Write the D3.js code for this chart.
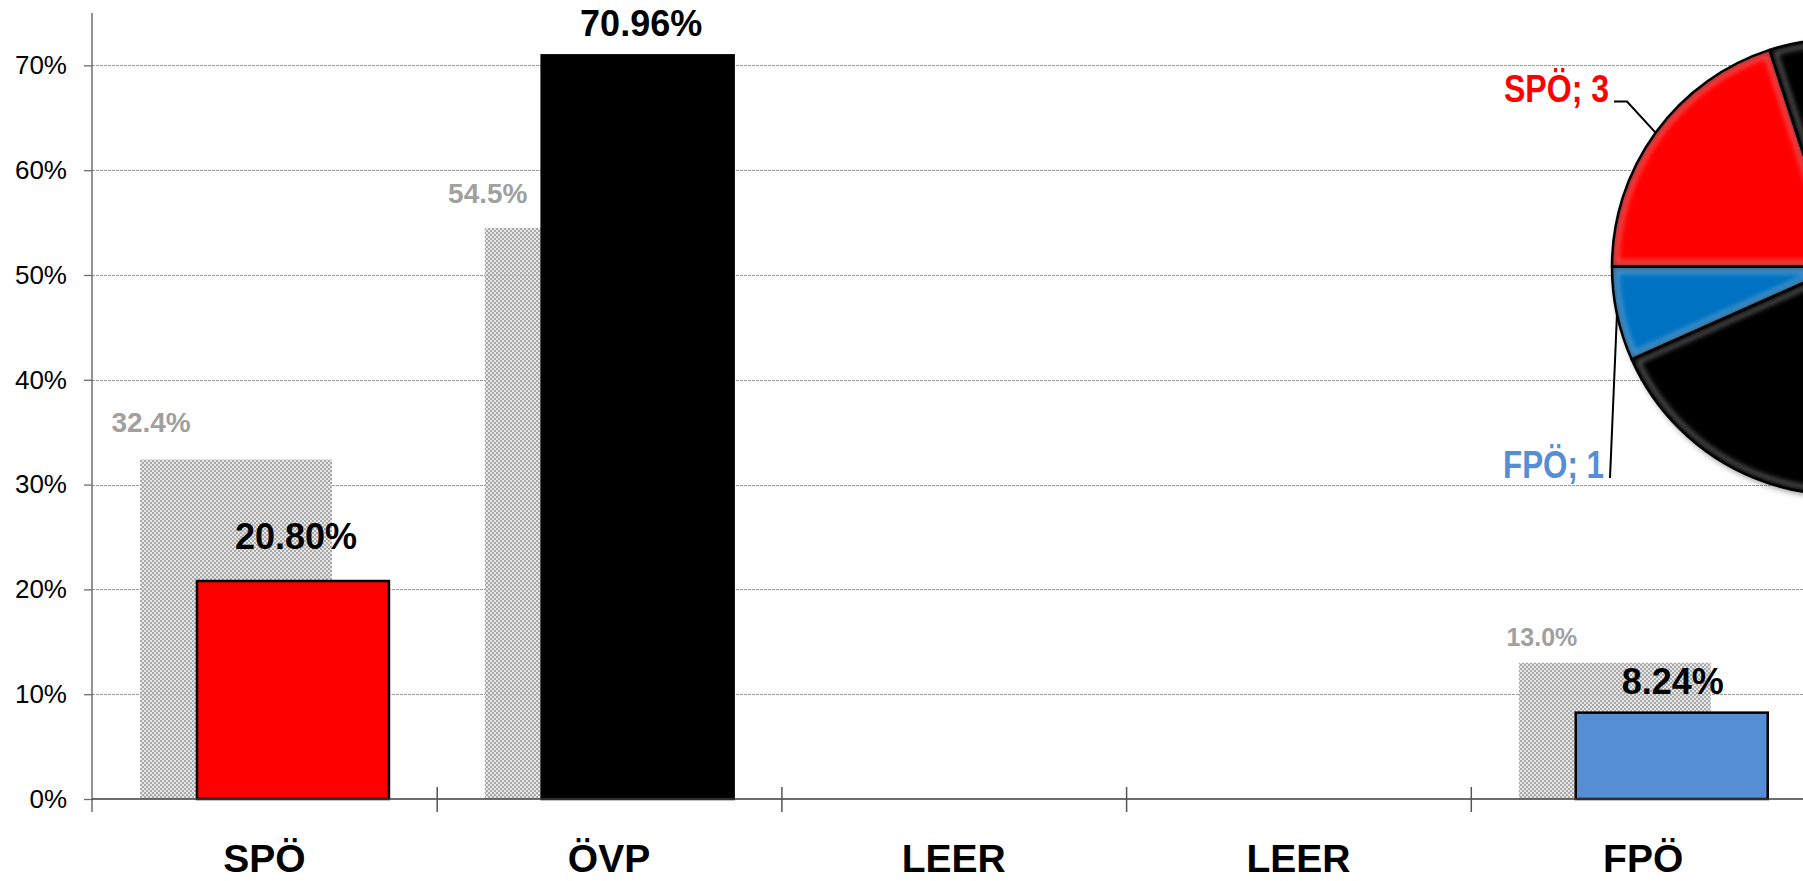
<!DOCTYPE html>
<html>
<head>
<meta charset="utf-8">
<script src="https://cdn.jsdelivr.net/npm/d3@7"></script>
<style>
  html, body { margin: 0; padding: 0; background: #fff; overflow: hidden; }
  svg { display: block; font-family: "Liberation Sans", Arial, sans-serif; }
</style>
</head>
<body>
<svg id="chart" width="1803" height="881"></svg>
<script>
// ---------------- data ----------------
const categories = ["SPÖ", "ÖVP", "LEER", "LEER", "FPÖ"];
const previousShare = [0.324, 0.545, null, null, 0.130];   // grey patterned bars
const currentShare  = [0.2080, 0.7096, null, null, 0.0824]; // coloured bars
const previousLabels = ["32.4%", "54.5%", null, null, "13.0%"];
const currentLabels  = ["20.80%", "70.96%", null, null, "8.24%"];
const yTicks = [0, 0.1, 0.2, 0.3, 0.4, 0.5, 0.6, 0.7];
const seatParties = ["SPÖ", "ÖVP", "FPÖ"];
const seats = [3, 11, 1];

// ---------------- styles / layout ----------------
const barColors = ["#ff0000", "#000000", null, null, "#558ed5"];
const pieColors = ["#ff0000", "#030303", "#0672c2"];
const pieLabelColors = ["#ff0000", null, "#558ed5"];
const prevLabelNudge = [[-85, -27, 28], [-93, -25, 28], null, null, [-73, -17, 25]]; // dx, dy, font size
const currLabelNudge = [[3, -32], [3.5, -19], null, null, [1, -18.6]];

const svg = d3.select("#chart");
const defs = svg.append("defs");

// checker pattern for previous-result bars
const pat = defs.append("pattern").attr("id", "checker")
  .attr("patternUnits", "userSpaceOnUse").attr("width", 4).attr("height", 4);
pat.append("rect").attr("width", 4).attr("height", 4).attr("fill", "#e2e2e2").attr("fill-opacity", 0.85);
pat.append("rect").attr("x", 0).attr("y", 0).attr("width", 2).attr("height", 2).attr("fill", "#a9a9a9");
pat.append("rect").attr("x", 2).attr("y", 2).attr("width", 2).attr("height", 2).attr("fill", "#a9a9a9");

// soft blur used for inner bevel highlights of pie slices
defs.append("filter").attr("id", "soft")
  .append("feGaussianBlur").attr("stdDeviation", 2.5);

const shadow = defs.append("filter").attr("id", "shadow")
  .attr("x", "-20%").attr("y", "-20%").attr("width", "140%").attr("height", "140%");
shadow.append("feDropShadow").attr("dx", 2).attr("dy", 3).attr("stdDeviation", 3)
  .attr("flood-color", "#000").attr("flood-opacity", 0.45);

// ---------------- scales ----------------
const plotLeft = 92, plotTop = 13, plotBottom = 799, bandW = 344.7;
const x = d3.scaleBand().domain(d3.range(categories.length))
  .range([plotLeft, plotLeft + bandW * categories.length]).padding(0);
const xEdge = d3.scaleLinear().domain([0, categories.length]).range(x.range());
const y = d3.scaleLinear().domain([0, 0.75]).range([plotBottom, plotTop]);

const bw = x.bandwidth();
const barW = bw * 0.557;
const prevOff = bw * 0.1395;
const currOff = bw * 0.3045;

// ---------------- gridlines ----------------
svg.append("g").selectAll("line").data(yTicks.slice(1)).join("line")
  .attr("x1", plotLeft).attr("x2", xEdge(categories.length))
  .attr("y1", d => Math.round(y(d)) + 0.5).attr("y2", d => Math.round(y(d)) + 0.5)
  .attr("stroke", "#9a9a9a").attr("stroke-width", 1).attr("stroke-dasharray", "3,1");

// ---------------- y axis ----------------
const yAxis = svg.append("g").attr("transform", `translate(${plotLeft},0)`)
  .call(d3.axisLeft(y).tickValues(yTicks).tickFormat(d3.format(".0%")).tickSize(8).tickPadding(17));
yAxis.select(".domain").remove();
yAxis.selectAll(".tick line").attr("stroke", "#6e6e6e").attr("stroke-width", 1.3);
yAxis.selectAll(".tick text").attr("font-size", 26).attr("fill", "#000")
  .attr("font-family", "'Liberation Sans', Arial, sans-serif");
svg.append("line").attr("x1", plotLeft).attr("x2", plotLeft).attr("y1", plotTop).attr("y2", 812)
  .attr("stroke", "#6e6e6e").attr("stroke-width", 1.5);

// ---------------- bars ----------------
const idx = d3.range(categories.length);
svg.append("g").selectAll("rect").data(idx.filter(i => previousShare[i] != null)).join("rect")
  .attr("x", i => x(i) + prevOff).attr("width", barW)
  .attr("y", i => y(previousShare[i])).attr("height", i => y(0) - y(previousShare[i]))
  .attr("fill", "url(#checker)");

svg.append("g").selectAll("rect").data(idx.filter(i => currentShare[i] != null)).join("rect")
  .attr("x", i => x(i) + currOff).attr("width", barW)
  .attr("y", i => y(currentShare[i])).attr("height", i => y(0) - y(currentShare[i]))
  .attr("fill", i => barColors[i]).attr("stroke", "#000").attr("stroke-width", 2.5);

// ---------------- x axis ----------------
svg.append("line").attr("x1", plotLeft).attr("x2", xEdge(categories.length))
  .attr("y1", y(0)).attr("y2", y(0)).attr("stroke", "#3c3c3c").attr("stroke-width", 1.5);
const xAxis = svg.append("g").attr("transform", `translate(0,${y(0)})`)
  .call(d3.axisBottom(xEdge).tickValues(d3.range(1, categories.length + 1)).tickFormat("").tickSize(13));
xAxis.select(".domain").remove();
xAxis.selectAll(".tick line").attr("y1", -12).attr("stroke", "#555").attr("stroke-width", 1.5);

svg.append("g").selectAll("text").data(idx).join("text")
  .attr("x", i => x(i) + bw / 2).attr("y", 872)
  .attr("text-anchor", "middle").attr("font-size", 39).attr("font-weight", "bold").attr("fill", "#000")
  .text(i => categories[i]);

// ---------------- value labels ----------------
svg.append("g").selectAll("text").data(idx.filter(i => previousLabels[i] != null)).join("text")
  .attr("x", i => x(i) + prevOff + barW / 2 + prevLabelNudge[i][0])
  .attr("y", i => y(previousShare[i]) + prevLabelNudge[i][1])
  .attr("text-anchor", "middle").attr("font-weight", "bold")
  .attr("font-size", i => prevLabelNudge[i][2]).attr("fill", "#a0a0a0")
  .text(i => previousLabels[i]);

svg.append("g").selectAll("text").data(idx.filter(i => currentLabels[i] != null)).join("text")
  .attr("x", i => x(i) + currOff + barW / 2 + currLabelNudge[i][0])
  .attr("y", i => y(currentShare[i]) + currLabelNudge[i][1])
  .attr("text-anchor", "middle").attr("font-weight", "bold")
  .attr("font-size", 36).attr("fill", "#000")
  .text(i => currentLabels[i]);

// ---------------- seat pie ----------------
const pcx = 1840, pcy = 266.7, pr = 228;
const pie = d3.pie().sort(null).value(d => d)
  .startAngle(1.5 * Math.PI).endAngle(3.5 * Math.PI);
const arcs = pie(seats);
const arc = d3.arc().innerRadius(0).outerRadius(pr);

// leader lines (behind the pie)
const edgePt = a => {
  const m = (a.startAngle + a.endAngle) / 2;
  return [pcx + Math.sin(m) * pr, pcy - Math.cos(m) * pr];
};
const e0 = edgePt(arcs[0]);
svg.append("polyline").attr("points", [[1614, 101.5], [1627, 101.5], e0].map(p => p.join(",")).join(" "))
  .attr("fill", "none").attr("stroke", "#000").attr("stroke-width", 2);
const e2 = edgePt(arcs[2]);
svg.append("line").attr("x1", 1610).attr("y1", 478).attr("x2", e2[0]).attr("y2", e2[1])
  .attr("stroke", "#000").attr("stroke-width", 2);

const pg = svg.append("g").attr("transform", `translate(${pcx},${pcy})`);
// shadowed base
pg.append("g").attr("filter", "url(#shadow)").selectAll("path").data(arcs).join("path")
  .attr("d", arc).attr("fill", (d, i) => pieColors[i]);
// bevel highlights clipped inside each slice
arcs.forEach((a, i) => {
  const id = "clip" + i;
  defs.append("clipPath").attr("id", id).append("path")
    .attr("d", arc(a)).attr("transform", `translate(${pcx},${pcy})`);
  const g = svg.append("g").attr("clip-path", `url(#${id})`)
    .append("g").attr("transform", `translate(${pcx},${pcy})`);
  g.append("path").attr("d", arc(a)).attr("fill", "none")
    .attr("stroke", i === 1 ? "#9a9a9a" : "#ffffff").attr("stroke-opacity", i === 1 ? 0.55 : 0.28)
    .attr("stroke-width", 14).attr("filter", "url(#soft)");
  g.append("path").attr("d", arc(a)).attr("fill", "none")
    .attr("stroke", "#000").attr("stroke-opacity", i === 1 ? 1 : 0.35)
    .attr("stroke-width", 6).attr("filter", "url(#soft)");
});
svg.append("g").attr("transform", `translate(${pcx},${pcy})`)
  .selectAll("path").data(arcs).join("path")
  .attr("d", arc).attr("fill", "none").attr("stroke", "#000").attr("stroke-width", 2.5)
  .attr("stroke-linejoin", "round");

// pie labels
const pieLabelPos = [[1504, 101.5, 105], null, [1503, 477.5, 101]];
svg.append("g").selectAll("text").data([0, 2]).join("text")
  .attr("x", i => pieLabelPos[i][0]).attr("y", i => pieLabelPos[i][1])
  .attr("textLength", i => pieLabelPos[i][2]).attr("lengthAdjust", "spacingAndGlyphs")
  .attr("font-size", 39).attr("font-weight", "bold").attr("fill", i => pieLabelColors[i])
  .text(i => `${seatParties[i]}; ${seats[i]}`);
</script>
</body>
</html>
